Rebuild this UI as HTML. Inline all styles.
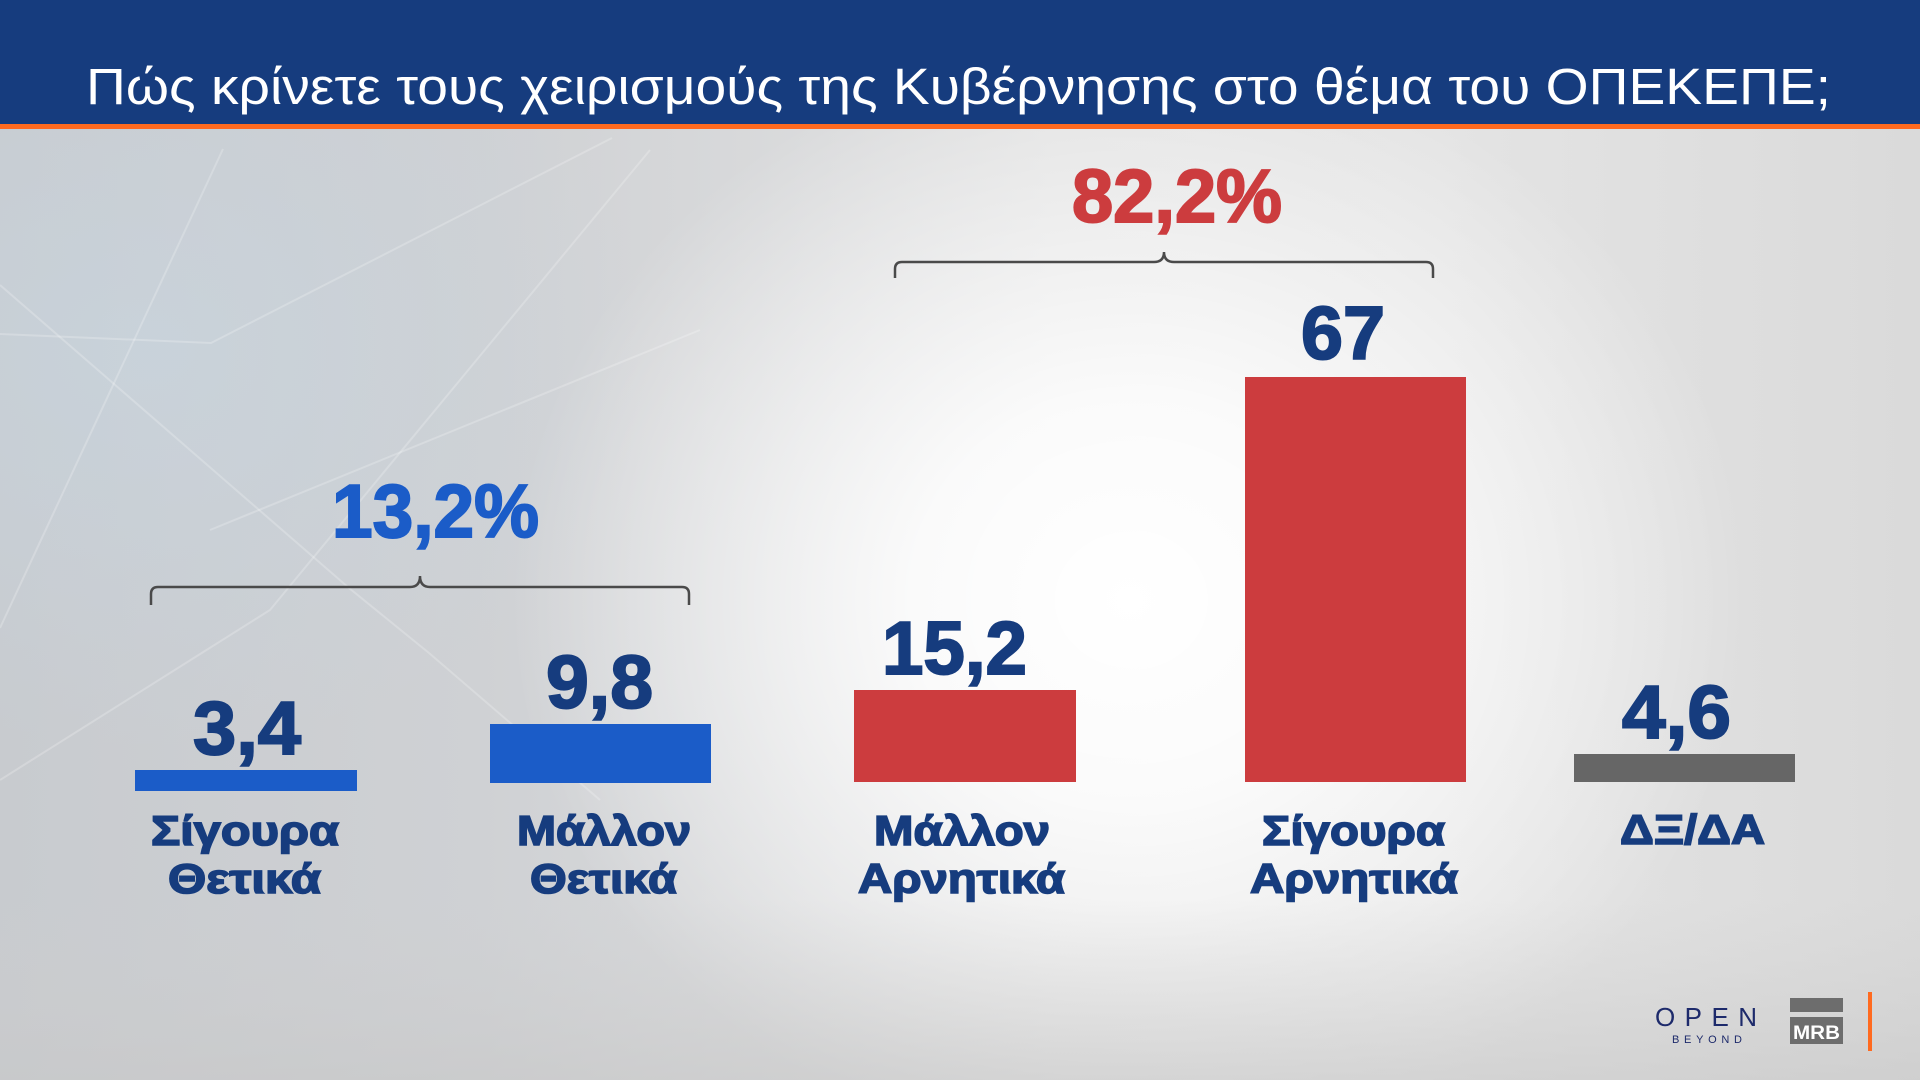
<!DOCTYPE html>
<html>
<head>
<meta charset="utf-8">
<style>
  html,body{margin:0;padding:0;width:1920px;height:1080px;overflow:hidden;}
  body{
    background:
      radial-gradient(ellipse 620px 560px at 1130px 600px, #ffffff 0%, rgba(255,255,255,0.85) 35%, rgba(255,255,255,0) 100%),
      radial-gradient(ellipse 500px 400px at 150px 350px, rgba(200,212,222,0.7) 0%, rgba(200,212,222,0) 100%),
      linear-gradient(90deg, #c8cbcf 0%, #cfd1d4 25%, #e2e2e2 55%, #e4e4e4 75%, #dadada 100%);
  }
  svg{position:absolute;left:0;top:0;}
  text{font-family:"Liberation Sans","DejaVu Sans",sans-serif;}
</style>
</head>
<body>
<svg width="1920" height="1080" viewBox="0 0 1920 1080" xmlns="http://www.w3.org/2000/svg">
  <defs>
    <linearGradient id="bot" x1="0" y1="0" x2="0" y2="1">
      <stop offset="0" stop-color="#cfcfcf" stop-opacity="0"/>
      <stop offset="1" stop-color="#c8c8c8" stop-opacity="0.6"/>
    </linearGradient>
  </defs>
  <rect x="0" y="900" width="1920" height="180" fill="url(#bot)"/>
  <g stroke="#ffffff" stroke-opacity="0.22" stroke-width="2" fill="none">
    <polyline points="223,149 0,628"/>
    <polyline points="0,334 211,343 612,138"/>
    <polyline points="0,285 349,588 429,653 600,800"/>
    <polyline points="650,150 270,610 0,780"/>
    <polyline points="210,530 700,330"/>
  </g>
  <!-- header -->
  <rect x="0" y="0" width="1920" height="124" fill="#163c7e"/>
  <rect x="0" y="124" width="1920" height="5" fill="#ff6a1f"/>
  <text x="86" y="104" font-size="51" fill="#ffffff" textLength="1745" lengthAdjust="spacingAndGlyphs">Πώς κρίνετε τους χειρισμούς της Κυβέρνησης στο θέμα του ΟΠΕΚΕΠΕ;</text>

  <!-- bars -->
  <rect x="135" y="770" width="222" height="21" fill="#1b5cc8"/>
  <rect x="490" y="724" width="221" height="59" fill="#1b5cc8"/>
  <rect x="854" y="690" width="222" height="92" fill="#cc3c3e"/>
  <rect x="1245" y="377" width="221" height="405" fill="#cc3c3e"/>
  <rect x="1574" y="754" width="221" height="28" fill="#666666"/>

  <!-- value labels -->
  <g font-size="75" font-weight="bold" fill="#163c7e" stroke="#163c7e" stroke-width="2">
    <text x="193" y="754" textLength="108" lengthAdjust="spacingAndGlyphs">3,4</text>
    <text x="546" y="708" textLength="107" lengthAdjust="spacingAndGlyphs">9,8</text>
    <text x="882" y="674" textLength="145" lengthAdjust="spacingAndGlyphs">15,2</text>
    <text x="1301" y="359" textLength="84" lengthAdjust="spacingAndGlyphs">67</text>
    <text x="1622" y="738" textLength="109" lengthAdjust="spacingAndGlyphs">4,6</text>
  </g>
  <text x="332" y="537" font-size="75" font-weight="bold" fill="#1b5cc8" stroke="#1b5cc8" stroke-width="2" textLength="207" lengthAdjust="spacingAndGlyphs">13,2%</text>
  <text x="1072" y="222" font-size="75" font-weight="bold" fill="#cc3c3e" stroke="#cc3c3e" stroke-width="2" textLength="210" lengthAdjust="spacingAndGlyphs">82,2%</text>

  <!-- braces -->
  <g stroke="#4a4a4a" stroke-width="2.5" fill="none">
    <path d="M151,605 L151,594 Q151,587 158,587 L410,587 Q420,587 420,576 Q420,587 430,587 L682,587 Q689,587 689,594 L689,605"/>
    <path d="M895,278 L895,269 Q895,262 902,262 L1154,262 Q1164,262 1164,252 Q1164,262 1174,262 L1426,262 Q1433,262 1433,269 L1433,278"/>
  </g>

  <!-- category labels -->
  <g font-size="42" font-weight="bold" fill="#163c7e" stroke="#163c7e" stroke-width="1.6">
    <text x="151" y="845" textLength="188" lengthAdjust="spacingAndGlyphs">Σίγουρα</text>
    <text x="168" y="893" textLength="153" lengthAdjust="spacingAndGlyphs">Θετικά</text>
    <text x="517" y="845" textLength="174" lengthAdjust="spacingAndGlyphs">Μάλλον</text>
    <text x="530" y="893" textLength="147" lengthAdjust="spacingAndGlyphs">Θετικά</text>
    <text x="874" y="845" textLength="176" lengthAdjust="spacingAndGlyphs">Μάλλον</text>
    <text x="858" y="893" textLength="207" lengthAdjust="spacingAndGlyphs">Αρνητικά</text>
    <text x="1262" y="845" textLength="183" lengthAdjust="spacingAndGlyphs">Σίγουρα</text>
    <text x="1250" y="893" textLength="208" lengthAdjust="spacingAndGlyphs">Αρνητικά</text>
    <text x="1620" y="844" textLength="145" lengthAdjust="spacingAndGlyphs">ΔΞ/ΔΑ</text>
  </g>

  <!-- logos -->
  <text x="1655" y="1026" font-size="26" fill="#1d2a6b" textLength="102" lengthAdjust="spacing">OPEN</text>
  <text x="1672" y="1043" font-size="11" fill="#1d2a6b" textLength="70" lengthAdjust="spacing">BEYOND</text>
  <rect x="1790" y="998" width="53" height="14" fill="#6d6d6d"/>
  <rect x="1790" y="1017" width="53" height="27" fill="#6d6d6d"/>
  <text x="1793" y="1039" font-size="19" font-weight="bold" fill="#ffffff" textLength="47" lengthAdjust="spacingAndGlyphs">MRB</text>
  <rect x="1868" y="992" width="4" height="59" fill="#ff6a1f"/>
</svg>
</body>
</html>
